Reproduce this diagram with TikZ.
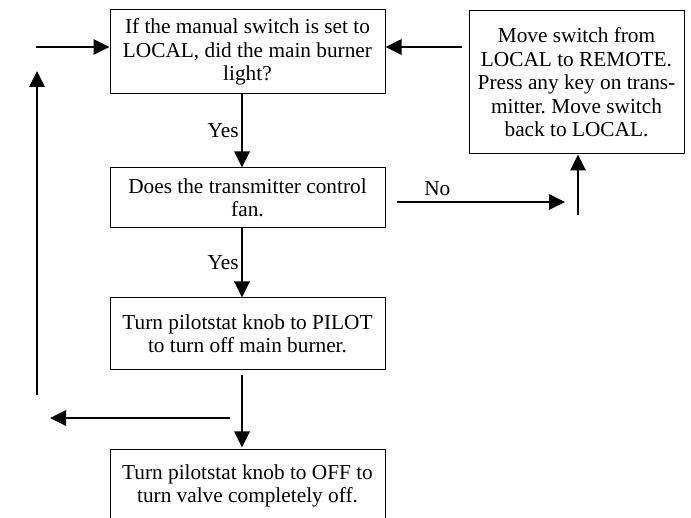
\documentclass[tikz,border=0pt]{standalone}
\usepackage{fontspec}
\setmainfont{Liberation Serif}
\usetikzlibrary{positioning}
\usetikzlibrary{arrows.meta}
\frenchspacing
\tikzset{
    stepbox/.style={draw,line width=1pt,minimum width=275pt,inner sep=0pt,align=center,font=\fontsize{21.3}{23.5}\selectfont},
    flow/.style={line width=2.8pt,-{Triangle[length=16pt,width=15pt]}},
    lbl/.style={font=\fontsize{21.3}{23.5}\selectfont,inner sep=2pt}
}

\begin{document}
\begin{tikzpicture}[x=1pt,y=-1pt]
    \useasboundingbox (0,0) rectangle (691,518);

    \node[stepbox,minimum height=84pt] (ask) at (247.5,52) {If the manual switch is set to\\LOCAL, did the main burner\\light?};
    \node[stepbox,minimum height=60pt] (fan) at (247.5,198) {Does the transmitter control\\fan.};
    \node[stepbox,minimum height=72pt] (pilot) at (247.5,334) {Turn pilotstat knob to PILOT\\to turn off main burner.};
    \node[stepbox,minimum height=72pt] (off) at (247.5,486) {Turn pilotstat knob to OFF to\\turn valve completely off.};
    \node[stepbox,minimum width=215pt,minimum height=143pt] (remote) at (576.5,82.5) {Move switch from\\LOCAL to REMOTE.\\Press any key on trans-\\mitter. Move switch\\back to LOCAL.};

    % loose arrow ends
    \coordinate (inL) at (36,47);
    \coordinate (inR) at (462,47);
    \coordinate (upB) at (37,395);
    \coordinate (upT) at (37,71);
    \coordinate (backR) at (230,418);
    \coordinate (backL) at (50,418);
    \coordinate (noL) at (397,202);
    \coordinate (noR) at (565,202);
    \coordinate (upR) at (578,215);

    \draw[flow] ([xshift=-5.5pt]ask.south) -- ([xshift=-5.5pt]fan.north) node[midway,left,lbl] {Yes};
    \draw[flow] ([xshift=-5.5pt]fan.south) -- ([xshift=-5.5pt]pilot.north) node[midway,left,lbl] {Yes};
    \draw[flow] ([shift={(-5.5pt,-5pt)}]pilot.south) -- ([shift={(-5.5pt,2pt)}]off.north);
    \draw[flow] (backR) -- (backL);
    \draw[flow] (upB) -- (upT);
    \draw[flow] (inL) -- (inL -| ask.west);
    \draw[flow] (inR) -- (inR -| ask.east);
    \draw[flow] (noL) -- (noR) node[pos=0.24,above=3pt,lbl] {No};
    \draw[flow] (upR) -- (upR |- remote.south);
\end{tikzpicture}
\end{document}
